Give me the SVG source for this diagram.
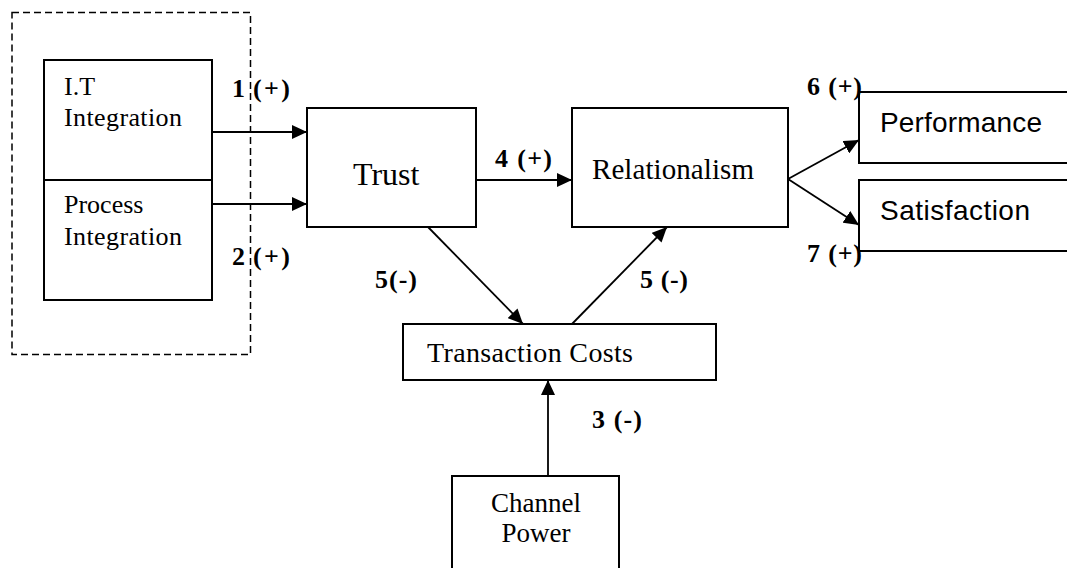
<svg xmlns="http://www.w3.org/2000/svg" width="1067" height="568" viewBox="0 0 1067 568">
<style>
.box{fill:#fff;stroke:#000;stroke-width:2}
.serif{font-family:"Liberation Serif","Times New Roman",serif;fill:#000}
.sans{font-family:"Liberation Sans",Arial,sans-serif;fill:#000}
.lbl{font-family:"Liberation Serif","Times New Roman",serif;font-weight:bold;font-size:26px;fill:#000}
.conn{stroke:#000;stroke-width:1.8;fill:none;marker-end:url(#ah)}
</style>
<defs>
<marker id="ah" markerUnits="userSpaceOnUse" markerWidth="16" markerHeight="14" refX="15" refY="7" orient="auto">
<path d="M0,0 L15,7 L0,14 z" fill="#000"/>
</marker>
</defs>
<rect width="1067" height="568" fill="#fff"/>
<g id="connectors">
<line class="conn" x1="212" y1="132" x2="307" y2="132"/>
<line class="conn" x1="212" y1="204" x2="307" y2="204"/>
<line class="conn" x1="476" y1="180" x2="572" y2="180"/>
<line class="conn" x1="428" y1="227" x2="523" y2="324"/>
<line class="conn" x1="572" y1="324" x2="667" y2="227"/>
<line class="conn" x1="788" y1="179" x2="859" y2="140"/>
<line class="conn" x1="788" y1="179" x2="859" y2="225"/>
<line class="conn" x1="548" y1="476" x2="548" y2="380"/>
</g>
<g id="node-it">
<rect class="box" x="44" y="60" width="168" height="120"/>
<text class="serif" x="64" y="95" font-size="26">I.T</text>
<text class="serif" x="64" y="126" font-size="26" textLength="118">Integration</text>
</g>
<g id="node-process">
<rect class="box" x="44" y="180" width="168" height="120"/>
<text class="serif" x="64" y="213" font-size="26">Process</text>
<text class="serif" x="64" y="245" font-size="26" textLength="118">Integration</text>
</g>
<g id="group-integration">
<rect x="12" y="12.5" width="238.5" height="342" fill="none" stroke="#000" stroke-width="1.5" stroke-dasharray="7,4"/>
</g>
<g id="node-trust">
<rect class="box" x="307" y="108" width="169" height="119"/>
<text class="serif" x="353" y="185" font-size="32">Trust</text>
</g>
<g id="node-relationalism">
<rect class="box" x="572" y="108" width="216" height="119"/>
<text class="serif" x="592" y="179" font-size="29" textLength="162">Relationalism</text>
</g>
<g id="node-performance">
<rect class="box" x="859" y="92" width="230" height="71"/>
<text class="sans" x="880" y="132" font-size="28" textLength="162">Performance</text>
</g>
<g id="node-satisfaction">
<rect class="box" x="859" y="180" width="230" height="71"/>
<text class="sans" x="880" y="220" font-size="28" textLength="150">Satisfaction</text>
</g>
<g id="node-transaction">
<rect class="box" x="403" y="324" width="313" height="56"/>
<text class="serif" x="427" y="362" font-size="28" textLength="206">Transaction Costs</text>
</g>
<g id="node-channel">
<rect class="box" x="452" y="476" width="167" height="110"/>
<text class="serif" x="536" y="512" font-size="27" text-anchor="middle">Channel</text>
<text class="serif" x="536" y="542" font-size="27" text-anchor="middle">Power</text>
</g>
<g id="labels">
<text class="lbl" x="232" y="97">1</text>
<text class="lbl" x="253" y="97" textLength="37">(+)</text>
<text class="lbl" x="232" y="265">2</text>
<text class="lbl" x="253" y="265" textLength="37">(+)</text>
<text class="lbl" x="495" y="167" textLength="57">4 (+)</text>
<text class="lbl" x="375" y="288" textLength="42">5(-)</text>
<text class="lbl" x="640" y="288" textLength="48">5 (-)</text>
<text class="lbl" x="592" y="428" textLength="50">3 (-)</text>
<text class="lbl" x="807" y="95" textLength="55">6 (+)</text>
<text class="lbl" x="807" y="262" textLength="55">7 (+)</text>
</g>
</svg>
